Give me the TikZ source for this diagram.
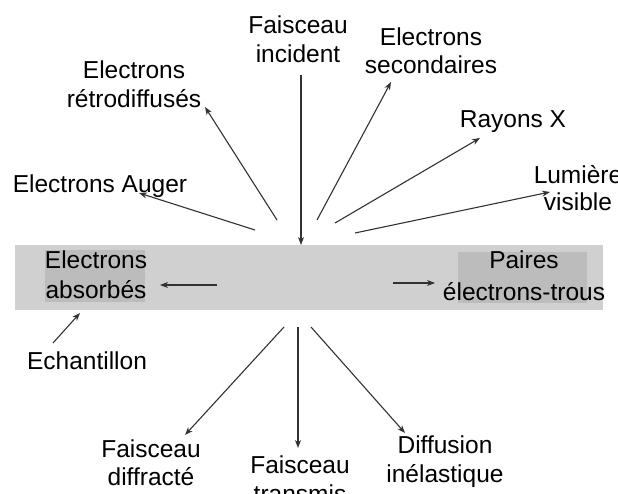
\documentclass[tikz,border=0pt]{standalone}
\usepackage{fontspec}
\setmainfont{Liberation Sans}
\usepackage{xcolor}
\usetikzlibrary{
  arrows.meta,
  positioning,
  calc,
}
\definecolor{bandgray}{RGB}{208,208,208}
\definecolor{boxgray}{RGB}{188,188,188}
\definecolor{raycol}{RGB}{50,50,50}
\tikzset{
  txtnode/.style={
    font=\fontsize{24.5}{29}\selectfont, align=center,
    inner sep=0pt, anchor=north, text=black
  },
  ray/.style={
    -{Stealth[length=8pt, width=6pt, inset=2.5pt]},
    line width=1.1pt, draw=raycol
  },
  bandrect/.style={fill=bandgray, draw=none},
  darkrect/.style={fill=boxgray, draw=none},
}

\begin{document}
\begin{tikzpicture}[x=1pt, y=-1pt]
  \useasboundingbox (0,0) rectangle (618,494);

  % ── Sample band ──
  \fill[bandrect] (15,245) rectangle (603,310);
  \fill[darkrect] (45,250) rectangle (145,302);
  \fill[darkrect] (458,252) rectangle (587,303);

  % ── Labels above the sample ──
  \node[txtnode] (inc)    at (298,15.2)  {Faisceau\\incident};
  \node[txtnode, font=\fontsize{24.5}{28}\selectfont] (sec) at (431,27.2) {Electrons\\secondaires};
  \node[txtnode] (retro)  at (134,60.2)  {Electrons\\rétrodiffusés};
  \node[txtnode] (auger)  at (100,174.2) {Electrons Auger};
  \node[txtnode] (rayx)   at (513,110.2) {Rayons X};
  \node[txtnode, font=\fontsize{24.5}{27}\selectfont] (lum) at (578,165.2) {Lumière\\visible};

  % ── Labels inside the sample ──
  \node[txtnode, font=\fontsize{24.5}{30}\selectfont] (abs) at (96,250.2) {Electrons\\absorbés};
  \node[txtnode, font=\fontsize{24.5}{32}\selectfont] (paires) at (524,250.2) {Paires\\électrons-trous};
  \node[txtnode] (ech)    at (87,351.2)  {Echantillon};

  % ── Labels below the sample ──
  \node[txtnode, font=\fontsize{24.5}{28}\selectfont] (diffr) at (151,439.2) {Faisceau\\diffracté};
  \node[txtnode] (transm) at (300,455.2) {Faisceau\\transmis};
  \node[txtnode] (inel)   at (445,435.2) {Diffusion\\inélastique};

  % ── Connector end points ──
  \coordinate (impact) at (301,245);
  \coordinate (sInc)    at (301,75);
  \coordinate (sSec)    at (317,220);   \coordinate (tSec)    at (391,82);
  \coordinate (sRayx)   at (335,223);   \coordinate (tRayx)   at (480,138);
  \coordinate (sLum)    at (355,233);   \coordinate (tLum)    at (550,192);
  \coordinate (sRetro)  at (277,220);   \coordinate (tRetro)  at (205,107);
  \coordinate (sAuger)  at (255,230);   \coordinate (tAuger)  at (139,193);
  \coordinate (sAbs)    at (217,285);   \coordinate (tAbs)    at (160,285);
  \coordinate (sPaires) at (393,283);   \coordinate (tPaires) at (435,283);
  \coordinate (sEch)    at (53,343);    \coordinate (tEch)    at (80,313);
  \coordinate (sDiffr)  at (284,327);   \coordinate (tDiffr)  at (185,435);
  \coordinate (sTransm) at (298,327);   \coordinate (tTransm) at (298,448);
  \coordinate (sInel)   at (311,327);   \coordinate (tInel)   at (405,433);

  % ── Emitted radiation ──
  \draw[ray] (sInc) -- (impact);
  \draw[ray] (sSec) -- (tSec);
  \draw[ray] (sRayx) -- (tRayx);
  \draw[ray] (sLum) -- (tLum);
  \draw[ray] (sRetro) -- (tRetro);
  \draw[ray] (sAuger) -- (tAuger);

  % ── Inside and below the sample ──
  \draw[ray] (sAbs) -- (tAbs);
  \draw[ray] (sPaires) -- (tPaires);
  \draw[ray] (sEch) -- (tEch);
  \draw[ray] (sDiffr) -- (tDiffr);
  \draw[ray] (sTransm) -- (tTransm);
  \draw[ray] (sInel) -- (tInel);

\end{tikzpicture}
\end{document}
